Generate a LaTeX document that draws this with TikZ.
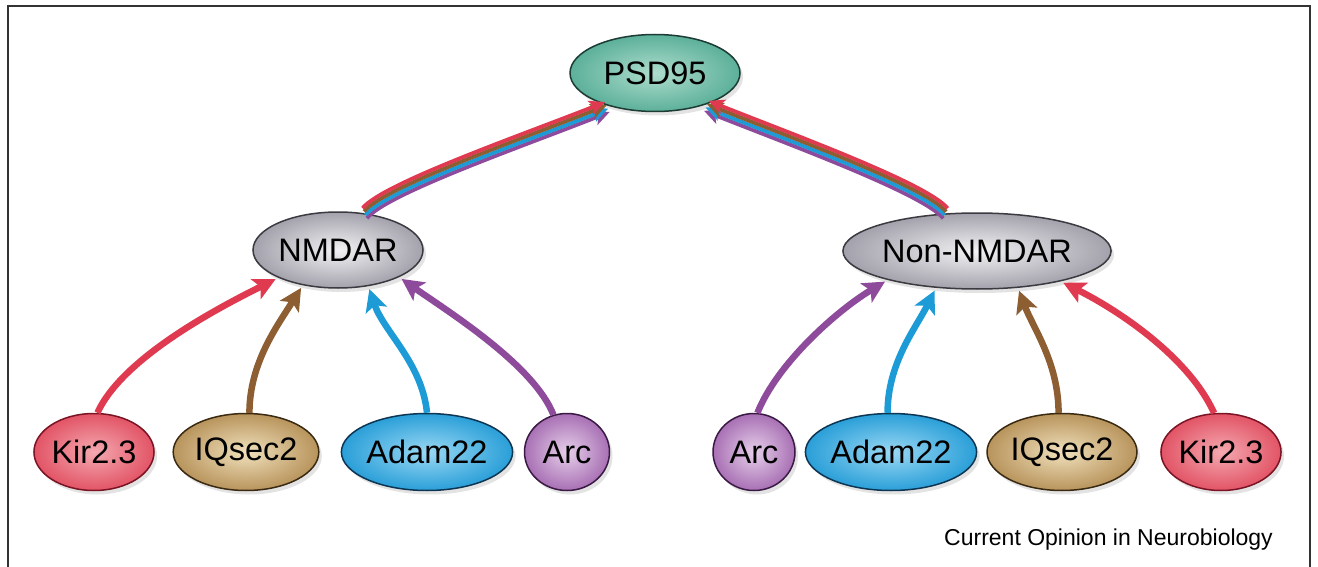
\documentclass[tikz,border=0pt]{standalone}
\usepackage{fontspec}
\setmainfont{Liberation Sans}
\usetikzlibrary{shapes.geometric,arrows.meta,shadows}
\definecolor{cRed}{HTML}{E03A50}
\definecolor{cBrown}{HTML}{8C5E32}
\definecolor{cBlue}{HTML}{1C9BD7}
\definecolor{cPurple}{HTML}{8F4B9B}
\definecolor{frameC}{HTML}{333333}
\definecolor{psdIn}{HTML}{AEDDCC}\definecolor{psdOut}{HTML}{5CB09A}\definecolor{psdBd}{HTML}{1C3B33}
\definecolor{grIn}{HTML}{F2F2F4}\definecolor{grOut}{HTML}{A3A2AC}\definecolor{grBd}{HTML}{3A3A40}
\definecolor{kirIn}{HTML}{F4A9B0}\definecolor{kirOut}{HTML}{E25466}\definecolor{kirBd}{HTML}{7A1424}
\definecolor{iqIn}{HTML}{F0E0BC}\definecolor{iqOut}{HTML}{B8945C}\definecolor{iqBd}{HTML}{3A2A12}
\definecolor{adIn}{HTML}{9AD8F4}\definecolor{adOut}{HTML}{2A9FD8}\definecolor{adBd}{HTML}{0E3552}
\definecolor{arIn}{HTML}{E6CFEA}\definecolor{arOut}{HTML}{A870B4}\definecolor{arBd}{HTML}{3A1A44}
\begin{document}
\begin{tikzpicture}[x=1pt,y=-1pt,
  bub/.style={ellipse,draw,line width=1.5pt,inner sep=0pt,minimum height=77pt,
    font=\fontsize{32.5}{38}\selectfont,
    drop shadow={shadow xshift=3pt,shadow yshift=-4pt,opacity=0.22}},
  teal/.style={bub,draw=psdBd,inner color=psdIn,outer color=psdOut},
  grayb/.style={bub,draw=grBd,inner color=grIn,outer color=grOut},
  redb/.style={bub,draw=kirBd,inner color=kirIn,outer color=kirOut},
  brownb/.style={bub,draw=iqBd,inner color=iqIn,outer color=iqOut},
  blueb/.style={bub,draw=adBd,inner color=adIn,outer color=adOut},
  purpleb/.style={bub,draw=arBd,inner color=arIn,outer color=arOut},
  conn/.style={line width=6.5pt,shorten >=3pt,-{Stealth[length=22pt,width=22pt,inset=5pt]}},
  bund/.style={line width=3.8pt,shorten >=2pt,-{Stealth[length=16pt,width=15pt,inset=4pt]}},
]
\useasboundingbox (0,0) rectangle (1318,567);
\draw[frameC,line width=2.8pt] (8,6) rectangle (1310,600);

% nodes
\node[teal,minimum width=170pt] (psd) at (655,73) {PSD95};
\node[grayb,minimum width=170pt,minimum height=76pt] (nmdar) at (338,250) {NMDAR};
\node[grayb,minimum width=231pt,minimum height=76pt] (non) at (977,251) {Non-NMDAR};

\node[redb,minimum width=118pt] (kirL) at (94,452) {Kir2.3};
\node[brownb,minimum width=143pt] (iqL) at (246,452) {IQsec2};
\node[blueb,minimum width=157pt] (adamL) at (427,452) {Adam22};
\node[purpleb,minimum width=85pt] (arcL) at (567,452) {Arc};

\node[purpleb,minimum width=82pt] (arcR) at (754,452) {Arc};
\node[blueb,minimum width=152pt] (adamR) at (891,452) {Adam22};
\node[brownb,minimum width=150pt] (iqR) at (1062,452) {IQsec2};
\node[redb,minimum width=118pt] (kirR) at (1221,452) {Kir2.3};

\node[anchor=east,inner sep=0pt,font=\fontsize{23}{28}\selectfont] (cap) at (1273,540) {Current Opinion in Neurobiology};

% left connectors
\draw[conn,cRed] (kirL.85) .. controls +(25,-55) and +(-60,30) .. (nmdar.205);
\draw[conn,cBrown] (iqL.85) .. controls +(0,-50) and +(-25,40) .. (nmdar.225);
\draw[conn,cBlue] (adamL.north) .. controls +(-5,-50) and +(15,45) .. (nmdar.-50);
\draw[conn,cPurple] (arcL.110) .. controls +(-20,-50) and +(50,35) .. (nmdar.-24);

% right connectors
\draw[conn,cPurple] (arcR.85) .. controls +(20,-50) and +(-50,30) .. (non.198);
\draw[conn,cBlue] (adamR.95) .. controls +(0,-50) and +(-20,40) .. (non.222);
\draw[conn,cBrown] (iqR.95) .. controls +(0,-50) and +(15,40) .. (non.-42);
\draw[conn,cRed] (kirR.100) .. controls +(-25,-55) and +(60,30) .. (non.-20);

% bundle left
\draw[bund,cPurple] ([shift={(2.2,5.0)}]nmdar.54) .. controls +(20,-25) and +(-80,32) .. ([shift={(2.2,5.0)}]psd.216);
\draw[bund,cBlue] ([shift={(0.7,1.7)}]nmdar.54) .. controls +(20,-25) and +(-80,32) .. ([shift={(0.7,1.7)}]psd.216);
\draw[bund,cBrown] ([shift={(-0.7,-1.7)}]nmdar.54) .. controls +(20,-25) and +(-80,32) .. ([shift={(-0.7,-1.7)}]psd.216);
\draw[bund,cRed] ([shift={(-2.2,-5.0)}]nmdar.54) .. controls +(20,-25) and +(-80,32) .. ([shift={(-2.2,-5.0)}]psd.216);

% bundle right
\draw[bund,cPurple] ([shift={(-2.2,5.0)}]non.130) .. controls +(-20,-25) and +(80,32) .. ([shift={(-2.2,5.0)}]psd.-33);
\draw[bund,cBlue] ([shift={(-0.7,1.7)}]non.130) .. controls +(-20,-25) and +(80,32) .. ([shift={(-0.7,1.7)}]psd.-33);
\draw[bund,cBrown] ([shift={(0.7,-1.7)}]non.130) .. controls +(-20,-25) and +(80,32) .. ([shift={(0.7,-1.7)}]psd.-33);
\draw[bund,cRed] ([shift={(2.2,-5.0)}]non.130) .. controls +(-20,-25) and +(80,32) .. ([shift={(2.2,-5.0)}]psd.-33);
\end{tikzpicture}
\end{document}
